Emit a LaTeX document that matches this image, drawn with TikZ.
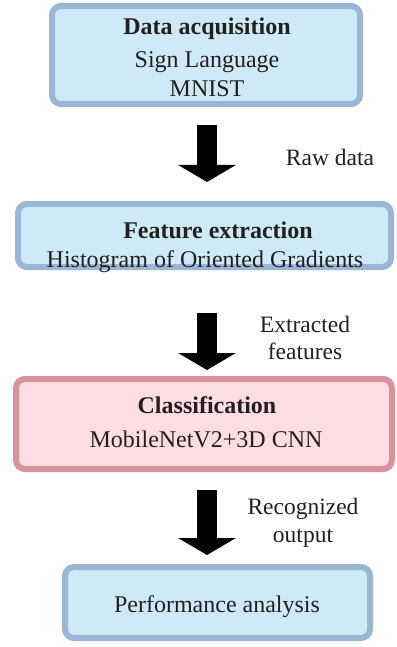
\documentclass[tikz,border=0pt]{standalone}
\usepackage{fontspec}
\setmainfont{Liberation Serif}
\usetikzlibrary{arrows.meta,shadows}
\definecolor{bluefill}{RGB}{207,234,247}
\definecolor{blueline}{RGB}{155,181,212}
\definecolor{pinkfill}{RGB}{252,221,228}
\definecolor{pinkline}{RGB}{217,147,154}
\definecolor{txt}{RGB}{35,31,32}
\tikzset{
  stagebox/.style={rounded corners=9pt, line width=6pt, inner sep=0pt,
    drop shadow={opacity=0.18, shadow xshift=0.8pt, shadow yshift=-1.2pt}},
  bluebox/.style={stagebox, draw=blueline, fill=bluefill},
  pinkbox/.style={stagebox, draw=pinkline, fill=pinkfill},
  title/.style={font=\fontsize{24}{28}\selectfont\bfseries, text=txt, inner sep=0pt},
  body/.style={font=\fontsize{24}{28}\selectfont, text=txt, inner sep=0pt, align=center},
  lbl/.style={font=\fontsize{23.5}{27.5}\selectfont, text=txt, inner sep=0pt, align=center},
  blockarrow/.style={line width=20pt, draw=black, -{Triangle[width=57pt,length=17pt]}}
}
\begin{document}
\begin{tikzpicture}[x=1pt,y=-1pt]
\useasboundingbox (0,0) rectangle (396,647);
% boxes
\node[bluebox, minimum width=308pt, minimum height=98pt] (b1) at (206,55) {};
\node[bluebox, minimum width=373pt, minimum height=63pt] (b2) at (204.5,235.5) {};
\node[pinkbox, minimum width=376pt, minimum height=90pt] (b3) at (204,424) {};
\node[bluebox, minimum width=305pt, minimum height=71pt] (b4) at (217.5,602.5) {};
% texts
\node[title] (t1) at (207,29) {Data acquisition};
\node[body] (s1a) at (207,62) {Sign Language};
\node[body] (s1b) at (207,89) {MNIST};
\node[title] (t2) at (218,230) {Feature extraction};
\node[body] (s2) at (205,262) {Histogram of Oriented Gradients};
\node[title] (t3) at (207,405) {Classification};
\node[body] (s3) at (206,439) {MobileNetV2+3D CNN};
\node[body] (s4) at (217,607) {Performance analysis};
% arrows
\coordinate (a1s) at (207,125); \coordinate (a1e) at (207,182);
\coordinate (a2s) at (207,313); \coordinate (a2e) at (207,370);
\coordinate (a3s) at (207,490); \coordinate (a3e) at (207,555);
\draw[blockarrow] (a1s) -- (a1e);
\draw[blockarrow] (a2s) -- (a2e);
\draw[blockarrow] (a3s) -- (a3e);
% labels
\node[lbl] (l1) at (330,157) {Raw data};
\node[lbl] (l2) at (305,338) {Extracted\\features};
\node[lbl] (l3) at (303,523) {Recognized\\output};
\end{tikzpicture}
\end{document}
